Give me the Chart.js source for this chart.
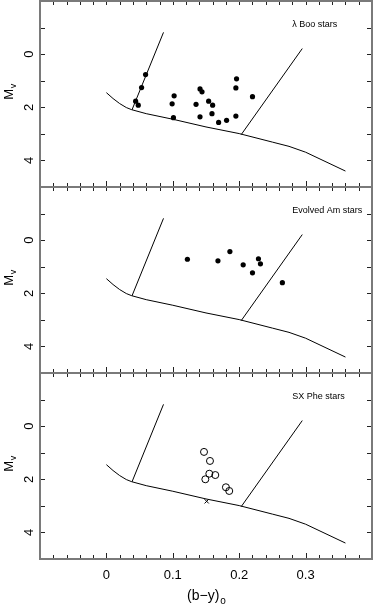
<!DOCTYPE html>
<html>
<head>
<meta charset="utf-8">
<script src="https://cdn.jsdelivr.net/npm/chart.js@4.4.0/dist/chart.umd.min.js"></script>
<style>
  html, body { margin: 0; padding: 0; background: #fff; }
  #wrap { position: relative; width: 373px; height: 609px; }
  #wrap canvas { position: absolute; left: 0; top: 0; }
</style>
</head>
<body>
<div id="wrap">
  <canvas id="p1" width="373" height="609"></canvas>
  <canvas id="p2" width="373" height="609"></canvas>
  <canvas id="p3" width="373" height="609"></canvas>
</div>
<script>
// ZAMS and instability strip edges (same in every panel)
const zamsX  = [0, 0.01, 0.02, 0.03, 0.038, 0.06, 0.1, 0.15, 0.2, 0.25, 0.275, 0.3, 0.36];
const zamsMv = [1.45, 1.67, 1.86, 2.01, 2.09, 2.24, 2.45, 2.74, 2.99, 3.31, 3.47, 3.69, 4.40];
const blueEdgeX  = [0.0385, 0.086];
const blueEdgeMv = [2.1, -0.82];
const redEdgeX  = [0.203, 0.295];
const redEdgeMv = [3.03, -0.21];

// lambda Boo stars
const lamBooX  = [0.059, 0.053, 0.044, 0.048, 0.099, 0.102, 0.101, 0.135, 0.141, 0.144,
                  0.141, 0.154, 0.160, 0.159, 0.169, 0.181, 0.195, 0.196, 0.195, 0.220];
const lamBooMv = [0.77, 1.26, 1.77, 1.92, 1.87, 1.57, 2.39, 1.89, 1.31, 1.42,
                  2.36, 1.77, 1.92, 2.24, 2.57, 2.49, 2.33, 0.93, 1.27, 1.60];

// evolved Am stars
const amX  = [0.122, 0.168, 0.186, 0.206, 0.220, 0.229, 0.232, 0.265];
const amMv = [0.72, 0.78, 0.43, 0.93, 1.23, 0.70, 0.89, 1.60];

// SX Phe stars
const sxPheX  = [0.147, 0.156, 0.155, 0.164, 0.149, 0.180, 0.185];
const sxPheMv = [0.97, 1.31, 1.79, 1.84, 2.00, 2.30, 2.44];
const sxPheCrossX  = [0.151];
const sxPheCrossMv = [2.83];

const panelTitles = ['λ Boo stars', 'Evolved Am stars', 'SX Phe stars'];
const xTickValues = [0, 0.1, 0.2, 0.3];
const xTickLabels = ['0', '0.1', '0.2', '0.3'];
const yTickValues = [0, 2, 4];
const yTickLabels = ['0', '2', '4'];
const xSmallTicks = [-0.08, -0.06, -0.04, -0.02, 0, 0.02, 0.04, 0.06, 0.08, 0.1, 0.12, 0.14,
                     0.16, 0.18, 0.2, 0.22, 0.24, 0.26, 0.28, 0.3, 0.32, 0.34, 0.36, 0.38];
const ySmallTicks = [-1, 0, 1, 2, 3, 4];

const FONT = '"Liberation Sans", Arial, sans-serif';

function pairs(xs, ys) {
    return xs.map((x, i) => ({ x: x, y: ys[i] }));
}

function lineSet(xs, ys) {
    return {
        data: pairs(xs, ys),
        showLine: true,
        borderColor: '#000',
        borderWidth: 1,
        pointRadius: 0,
        tension: 0
    };
}

// Frame, inward ticks, panel title and axis titles
const framePlugin = {
    id: 'frame',
    afterDatasetsDraw(chart, args, opts) {
        const ctx = chart.ctx;
        const a = chart.chartArea;
        const xs = chart.scales.x;
        const ys = chart.scales.y;
        ctx.save();

        // ticks
        ctx.strokeStyle = '#222';
        ctx.lineWidth = 1;
        ctx.beginPath();
        xSmallTicks.forEach(v => {
            const px = Math.round(xs.getPixelForValue(v)) + 0.5;
            const len = xTickValues.includes(v) ? 6 : 4;
            ctx.moveTo(px, a.bottom); ctx.lineTo(px, a.bottom - len);
            ctx.moveTo(px, a.top); ctx.lineTo(px, a.top + 4);
        });
        ySmallTicks.forEach(v => {
            const py = Math.round(ys.getPixelForValue(v)) + 0.5;
            ctx.moveTo(a.left, py); ctx.lineTo(a.left + 5, py);
            ctx.moveTo(a.right, py); ctx.lineTo(a.right - 5, py);
        });
        ctx.stroke();

        // frame
        ctx.strokeStyle = '#7a7a7a';
        ctx.lineWidth = 2;
        ctx.strokeRect(a.left, a.top, a.right - a.left, a.bottom - a.top);

        // panel title
        ctx.fillStyle = '#000';
        ctx.font = '9px ' + FONT;
        ctx.textAlign = 'left';
        ctx.textBaseline = 'middle';
        ctx.fillText(opts.title, xs.getPixelForValue(0.28), ys.getPixelForValue(-1.1));

        // y axis title M_v, rotated
        const cy = (a.top + a.bottom) / 2 - 2;
        ctx.save();
        ctx.translate(13, cy);
        ctx.rotate(-Math.PI / 2);
        ctx.font = '13px ' + FONT;
        const wM = ctx.measureText('M').width;
        ctx.font = '9px ' + FONT;
        const wv = ctx.measureText('v').width;
        ctx.textBaseline = 'alphabetic';
        ctx.font = '13px ' + FONT;
        ctx.fillText('M', -(wM + wv) / 2, 0);
        ctx.font = '9px ' + FONT;
        ctx.fillText('v', -(wM + wv) / 2 + wM + 0.5, 2.5);
        ctx.restore();

        // x axis title (b-y)o
        if (opts.xTitle) {
            ctx.font = '14px ' + FONT;
            ctx.textBaseline = 'alphabetic';
            const main = '(b\u2212y)';
            const wMain = ctx.measureText(main).width;
            ctx.font = '10px ' + FONT;
            const wSub = ctx.measureText('o').width;
            const x0 = (a.left + a.right) / 2 - (wMain + wSub) / 2;
            ctx.font = '14px ' + FONT;
            ctx.fillText(main, x0, 600);
            ctx.font = '10px ' + FONT;
            ctx.fillText('o', x0 + wMain + 1, 604);
        }
        ctx.restore();
    }
};

function makePanel(id, index, datasets) {
    const isBottom = index === 2;
    const padTop = [1, 187, 373][index];
    const padBottom = [422, 236, 0][index];
    return new Chart(document.getElementById(id), {
        type: 'scatter',
        data: { datasets: datasets },
        options: {
            responsive: false,
            animation: false,
            events: [],
            layout: {
                autoPadding: false,
                padding: { left: 0, right: 1, top: padTop, bottom: padBottom }
            },
            plugins: {
                legend: { display: false },
                tooltip: { enabled: false },
                frame: { title: panelTitles[index], xTitle: isBottom }
            },
            scales: {
                x: {
                    type: 'linear',
                    display: isBottom,
                    min: -0.1,
                    max: 0.4,
                    grid: { display: false, drawTicks: false },
                    border: { display: false },
                    afterBuildTicks: s => { s.ticks = xTickValues.map(v => ({ value: v })); },
                    afterFit: s => {
                        s.height = isBottom ? 50 : 0;
                        s.paddingLeft = 0;
                        s.paddingRight = 0;
                    },
                    ticks: {
                        padding: 9,
                        color: '#000',
                        font: { family: FONT, size: 13 },
                        callback: v => xTickLabels[xTickValues.indexOf(v)]
                    }
                },
                y: {
                    type: 'linear',
                    reverse: true,
                    min: -2,
                    max: 5,
                    grid: { display: false, drawTicks: false },
                    border: { display: false },
                    afterBuildTicks: s => { s.ticks = yTickValues.map(v => ({ value: v })); },
                    afterFit: s => {
                        s.width = 40;
                        s.paddingTop = 0;
                        s.paddingBottom = 0;
                    },
                    ticks: {
                        minRotation: 90,
                        maxRotation: 90,
                        crossAlign: 'center',
                        padding: 7,
                        color: '#000',
                        font: { family: FONT, size: 13 },
                        callback: v => yTickLabels[yTickValues.indexOf(v)]
                    }
                }
            }
        },
        plugins: [framePlugin]
    });
}

const strip = () => [lineSet(zamsX, zamsMv), lineSet(blueEdgeX, blueEdgeMv), lineSet(redEdgeX, redEdgeMv)];

makePanel('p1', 0, strip().concat([{
    data: pairs(lamBooX, lamBooMv),
    pointRadius: 2.6,
    pointBackgroundColor: '#000',
    pointBorderWidth: 0
}]));

makePanel('p2', 1, strip().concat([{
    data: pairs(amX, amMv),
    pointRadius: 2.6,
    pointBackgroundColor: '#000',
    pointBorderWidth: 0
}]));

makePanel('p3', 2, strip().concat([{
    data: pairs(sxPheX, sxPheMv),
    pointRadius: 3.5,
    pointBackgroundColor: 'rgba(0,0,0,0)',
    pointBorderColor: '#000',
    pointBorderWidth: 1
}, {
    data: pairs(sxPheCrossX, sxPheCrossMv),
    pointStyle: 'crossRot',
    pointRadius: 3,
    pointBorderColor: '#000',
    pointBorderWidth: 1
}]));
</script>
</body>
</html>
